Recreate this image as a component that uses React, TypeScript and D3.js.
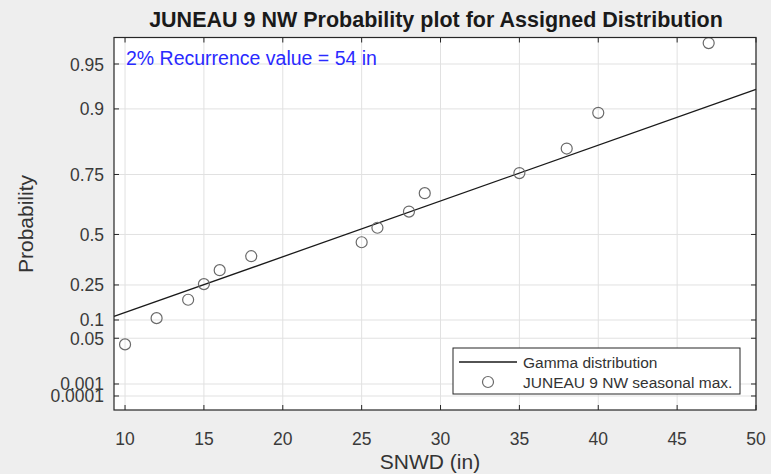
import * as d3 from 'd3';

// observed seasonal maxima (in) and their plotted position on the probability axis
const snwd = [10, 12, 14, 15, 16, 18, 25, 26, 28, 29, 35, 38, 40, 47];
const reducedVariate = [4.3, 9.0, 12.3, 15.1, 17.6, 20.1, 22.6, 25.2, 28.1, 31.4, 35.0, 39.4, 45.8, 58.3];

// fitted gamma line endpoints
const fitX = [9.3, 50];
const fitY = [9.3, 50];

const xTicks = [10, 15, 20, 25, 30, 35, 40, 45, 50];
const yTickLabels = ['0.95', '0.9', '0.75', '0.5', '0.25', '0.1', '0.05', '0.001', '0.0001'];
const yTickPos = [54.55, 46.5, 34.75, 24.0, 14.95, 8.67, 5.4, -2.8, -4.95];

const W = 771;
const H = 474;
const left = 114;
const right = 756;
const top = 37.5;
const bottom = 410;
const font = "'Liberation Sans', Arial, Helvetica, sans-serif";

const App = () => {
  const x = d3.scaleLinear().domain([9.3, 50]).range([left, right]);
  const y = d3.scaleLinear().domain([-7.46, 59.3]).range([bottom, top]);
  const line = d3
    .line<number>()
    .x((d, i) => x(fitX[i]))
    .y((d, i) => y(fitY[i]));
  const tick = 5;

  return (
    <svg width={W} height={H} style={{ position: 'fixed', left: 0, top: 0, display: 'block' }}>
      <rect width={W} height={H} fill="#eeeeee" />
      <rect x={left} y={top} width={right - left} height={bottom - top} fill="#ffffff" />

      {/* grid */}
      <g stroke="#e1e1e1" strokeWidth={1}>
        {xTicks.map((t) => (
          <line key={'gx' + t} x1={x(t)} x2={x(t)} y1={top} y2={bottom} />
        ))}
        {yTickPos.map((t, i) => (
          <line key={'gy' + i} x1={left} x2={right} y1={y(t)} y2={y(t)} />
        ))}
      </g>

      {/* ticks */}
      <g stroke="#262626" strokeWidth={1}>
        {xTicks.map((t) => (
          <g key={'tx' + t}>
            <line x1={x(t)} x2={x(t)} y1={bottom} y2={bottom - tick} />
            <line x1={x(t)} x2={x(t)} y1={top} y2={top + tick} />
          </g>
        ))}
        {yTickPos.map((t, i) => (
          <g key={'ty' + i}>
            <line x1={left} x2={left + tick} y1={y(t)} y2={y(t)} />
            <line x1={right} x2={right - tick} y1={y(t)} y2={y(t)} />
          </g>
        ))}
      </g>

      {/* fitted line */}
      <path d={line(fitX) || ''} fill="none" stroke="#1a1a1a" strokeWidth={1.3} />

      {/* observations */}
      {snwd.map((v, i) => (
        <circle key={'p' + i} cx={x(v)} cy={y(reducedVariate[i])} r={5.5} fill="none" stroke="#6a6a6a" strokeWidth={1.2} />
      ))}

      <rect x={left} y={top} width={right - left} height={bottom - top} fill="none" stroke="#262626" strokeWidth={1.2} />

      {/* tick labels */}
      <g fontFamily={font} fontSize={17.5} fill="#3a3a3a">
        {xTicks.map((t) => (
          <text key={'lx' + t} x={x(t)} y={445} textAnchor="middle">
            {t}
          </text>
        ))}
        {yTickLabels.map((l, i) => (
          <text key={'ly' + i} x={104} y={y(yTickPos[i]) + 6.5} textAnchor="end">
            {l}
          </text>
        ))}
      </g>

      <text x={436} y={27} textAnchor="middle" fontFamily={font} fontSize={21.5} fontWeight="bold" fill="#1a1a1a">
        JUNEAU 9 NW Probability plot for Assigned Distribution
      </text>
      <text x={430} y={469} textAnchor="middle" fontFamily={font} fontSize={21} fill="#333333">
        SNWD (in)
      </text>
      <text transform="translate(33,224) rotate(-90)" textAnchor="middle" fontFamily={font} fontSize={21} fill="#333333">
        Probability
      </text>

      <text x={126} y={65} fontFamily={font} fontSize={19.5} fill="#2a2aff">
        2% Recurrence value = 54 in
      </text>

      {/* legend */}
      <g fontFamily={font} fontSize={15.5} fill="#333333">
        <rect x={453} y={348} width={287} height={46} fill="#ffffff" stroke="#262626" strokeWidth={1} />
        <line x1={459} x2={517} y1={362} y2={362} stroke="#1a1a1a" strokeWidth={1.3} />
        <text x={523} y={367.5}>Gamma distribution</text>
        <circle cx={488} cy={382} r={5.5} fill="none" stroke="#6a6a6a" strokeWidth={1.2} />
        <text x={523} y={387.5}>JUNEAU 9 NW seasonal max.</text>
      </g>
    </svg>
  );
};

export default App;
